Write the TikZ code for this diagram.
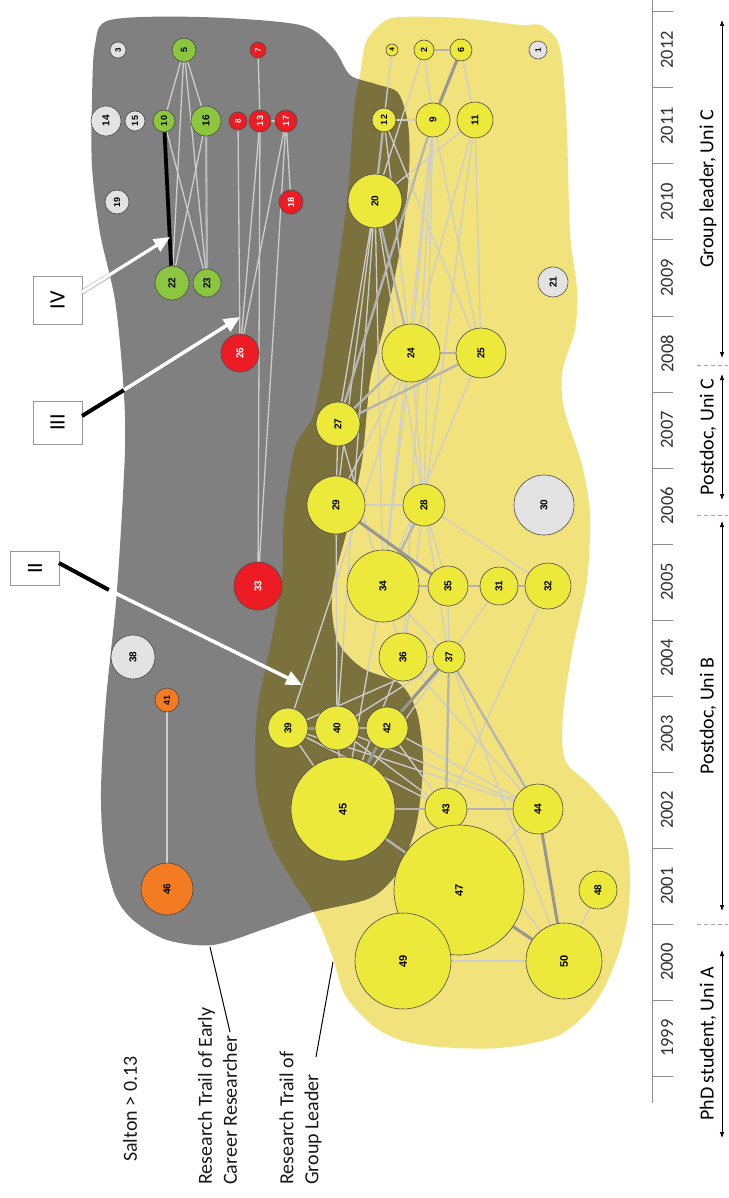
\documentclass[tikz,border=0pt]{standalone}
\usepackage{fontspec}
\setmainfont{Carlito}
\newfontfamily\numfont{Liberation Sans}
\usetikzlibrary{arrows.meta}
\pgfdeclarelayer{bg}\pgfdeclarelayer{edges}\pgfsetlayers{bg,edges,main}
\definecolor{graybg}{HTML}{808080}
\definecolor{yellowbg}{HTML}{F2E27B}
\definecolor{overlap}{HTML}{7A713D}
\definecolor{yl}{HTML}{EDE93B}
\definecolor{gr}{HTML}{8CC63F}
\definecolor{rd}{HTML}{ED1C24}
\definecolor{og}{HTML}{F37B21}
\definecolor{lg}{HTML}{E3E3E3}
\definecolor{ndb}{HTML}{4A4A4A}
\definecolor{ec1}{HTML}{CDCDCD}
\definecolor{ec2}{HTML}{B4B4B4}
\definecolor{ec3}{HTML}{969696}
\definecolor{tlc}{HTML}{8C8C8C}
\newcommand\ND[7]{\node[nd,minimum size=#4*2pt,fill=#5,text=#6,font=\numfont\bfseries\fontsize{#7}{#7}\selectfont] (n#1) at (#2,#3) {#1};}
\newcommand\EA[2]{\draw[ea] (n#1) -- (n#2);}
\newcommand\EB[2]{\draw[eb] (n#1) -- (n#2);}
\newcommand\EC[2]{\draw[ec] (n#1) -- (n#2);}
\def\graypath{plot[smooth cycle] coordinates {(95,45) (110,20) (200,17) (300,25) (333,48) (350,75) (375,84) (398,93) (408,125) (409,170) (403,230) (395,275) (383,330) (370,380) (362,460) (347,530) (332,590) (337,640) (362,668) (400,684) (417,713) (423,760) (420,800) (414,833) (397,873) (370,898) (313,912) (267,928) (213,945) (167,940) (133,920) (115,895) (104,850) (101,790) (106,700) (117,590) (125,450) (123,380) (115,300) (100,233) (92,167) (92,100)}}
\def\yellowpath{plot[smooth cycle] coordinates {(360,75) (366,42) (382,23) (400,17) (460,18) (520,25) (540,25) (557,40) (563,70) (567,133) (570,233) (577,290) (575,330) (563,367) (562,395) (567,420) (582,465) (590,515) (587,580) (573,647) (563,713) (565,760) (590,785) (617,817) (628,850) (630,885) (627,920) (618,955) (603,990) (585,1015) (555,1037) (500,1048) (440,1047) (400,1040) (372,1025) (345,995) (332,955) (315,915) (292,880) (270,840) (256,785) (257,713) (270,647) (282,580) (284,517) (295,447) (315,410) (333,300) (347,200) (354,110)}}
\begin{document}
\begin{tikzpicture}[x=1pt,y=-1pt,
  nd/.style={circle,draw=ndb,line width=0.6pt,inner sep=0pt,rotate=90},
  ea/.style={draw=ec1,line width=1.3pt},
  eb/.style={draw=ec2,line width=2.3pt},
  ec/.style={draw=ec3,line width=3pt},
  warrow/.style={draw=white,line width=3.5pt,-{Triangle[length=16pt,width=14pt,fill=white]}},
  barrow/.style={draw=black,line width=4pt},
  romanbox/.style={draw=black!40,fill=white,line width=0.8pt,rotate=90,inner sep=0pt,minimum height=49pt,font=\fontsize{22}{22}\selectfont},
  leg/.style={rotate=90,inner sep=0pt,text=black!90,font=\fontsize{20}{25}\selectfont},
  yearlab/.style={rotate=90,inner sep=0pt,text=black!80,font=\fontsize{18.5}{18.5}\selectfont},
  role/.style={rotate=90,inner sep=0pt,font=\fontsize{20}{20}\selectfont},
  tl/.style={draw=tlc,line width=1pt},
  tlarrow/.style={draw=black,line width=0.7pt,{Latex[length=6pt,width=4.5pt]}-{Latex[length=6pt,width=4.5pt]}},
  sep/.style={draw=black!35,line width=0.8pt,dash pattern=on 4pt off 3pt}]
\useasboundingbox (0,0) rectangle (728,1198);
% regions
\begin{pgfonlayer}{bg}
\fill[yellowbg] \yellowpath;
\fill[graybg] \graypath;
\begin{scope}
\clip \yellowpath;
\fill[overlap] \graypath;
\end{scope}
\end{pgfonlayer}
% nodes
\ND{1}{538}{50}{9}{lg}{black}{8}
\ND{2}{424}{50}{10}{yl}{black}{9}
\ND{3}{118}{50}{8}{lg}{black}{8}
\ND{4}{392}{50}{6}{yl}{black}{7}
\ND{5}{184}{50}{12}{gr}{black}{9}
\ND{6}{461}{50}{11}{yl}{black}{9}
\ND{7}{258}{50}{8}{rd}{white}{8}
\ND{8}{238}{121}{9}{rd}{white}{8}
\ND{9}{433}{120}{17}{yl}{black}{10}
\ND{10}{164}{121}{11}{gr}{black}{9}
\ND{11}{475}{120}{18}{yl}{black}{10}
\ND{12}{384}{120}{12}{yl}{black}{9}
\ND{13}{260}{121}{11}{rd}{white}{9}
\ND{14}{106}{121}{15}{lg}{black}{10}
\ND{15}{135}{121}{10}{lg}{black}{9}
\ND{16}{206}{121}{15}{gr}{black}{10}
\ND{17}{286}{121}{11}{rd}{white}{9}
\ND{18}{291}{202}{12}{rd}{white}{9}
\ND{19}{117}{202}{12}{lg}{black}{9}
\ND{20}{375}{201}{27}{yl}{black}{10}
\ND{21}{553}{282}{15}{lg}{black}{10}
\ND{22}{172}{283}{17}{gr}{black}{10}
\ND{23}{207}{283}{14}{gr}{black}{10}
\ND{24}{411}{353}{29}{yl}{black}{10}
\ND{25}{481}{353}{25}{yl}{black}{10}
\ND{26}{240}{353}{19}{rd}{white}{10}
\ND{27}{338}{424}{22}{yl}{black}{10}
\ND{28}{424}{505}{21}{yl}{black}{10}
\ND{29}{336}{505}{29}{yl}{black}{10}
\ND{30}{544}{505}{30}{lg}{black}{10}
\ND{31}{499}{586}{19}{yl}{black}{10}
\ND{32}{548}{586}{23}{yl}{black}{10}
\ND{33}{258}{586}{24}{rd}{white}{10}
\ND{34}{383}{586}{36}{yl}{black}{10}
\ND{35}{448}{586}{20}{yl}{black}{10}
\ND{36}{403}{657}{24}{yl}{black}{10}
\ND{37}{449}{657}{16}{yl}{black}{10}
\ND{38}{133}{657}{22}{lg}{black}{10}
\ND{39}{288}{728}{20}{yl}{black}{10}
\ND{40}{337}{728}{22}{yl}{black}{10}
\ND{41}{167}{700}{12}{og}{black}{9}
\ND{42}{387}{728}{21}{yl}{black}{10}
\ND{43}{446}{809}{21}{yl}{black}{10}
\ND{44}{538}{809}{25}{yl}{black}{10}
\ND{45}{343}{809}{52}{yl}{black}{11}
\ND{46}{167}{889}{26}{og}{black}{10}
\ND{47}{459}{890}{65}{yl}{black}{11}
\ND{48}{598}{890}{19}{yl}{black}{10}
\ND{49}{403}{961}{48}{yl}{black}{11}
\ND{50}{564}{961}{38}{yl}{black}{11}
% edges
\begin{pgfonlayer}{edges}
% green
\EA{5}{10}\EA{5}{22}\EA{5}{23}\EA{5}{16}\EA{10}{23}\EA{16}{22}\EB{16}{23}
\draw[black,line width=3.8pt] (n10) -- (n22);
% red
\EA{7}{13}\EA{8}{26}\EA{13}{26}\EA{13}{33}\EA{17}{26}\EA{17}{33}\EA{17}{18}\EA{13}{17}
% orange
\EA{41}{46}
% yellow thin
\EA{4}{12}\EA{2}{9}\EA{2}{20}\EA{6}{11}\EA{12}{9}\EA{12}{25}\EA{9}{24}\EA{9}{25}
\EA{11}{20}\EA{11}{24}\EA{11}{25}\EA{11}{28}\EA{9}{34}\EA{9}{28}\EA{20}{27}\EA{20}{29}
\EA{20}{34}\EA{20}{28}\EA{20}{40}\EA{24}{28}\EA{24}{34}\EA{24}{29}\EA{27}{34}\EA{27}{29}
\EA{29}{28}\EA{28}{35}\EA{28}{37}\EA{28}{36}\EA{28}{32}\EA{31}{37}\EA{32}{43}\EA{36}{37}
\EA{37}{40}\EA{37}{39}\EA{37}{45}\EA{34}{45}\EA{36}{45}\EA{29}{40}\EA{24}{39}\EA{39}{43}
\EA{40}{43}\EA{42}{43}\EA{40}{44}\EA{42}{44}\EA{39}{44}\EA{36}{44}\EA{37}{50}\EA{43}{47}
\EA{44}{47}\EA{49}{50}\EA{48}{50}\EA{43}{50}\EA{34}{36}\EA{35}{37}\EA{34}{37}\EA{40}{45}
\EA{39}{45}\EA{12}{24}\EA{25}{34}\EA{9}{36}
% yellow medium
\EB{2}{6}\EB{12}{20}\EB{9}{27}\EB{20}{24}\EB{24}{25}\EB{25}{27}\EB{24}{27}\EB{28}{34}
\EB{34}{35}\EB{35}{31}\EB{31}{32}\EB{37}{44}\EB{45}{43}\EB{43}{44}\EB{45}{47}\EB{37}{43}
\EB{40}{42}\EB{45}{44}
% yellow thick
\EC{6}{9}\EC{29}{35}\EC{37}{42}\EC{39}{40}\EC{44}{50}\EC{47}{50}\EC{42}{45}
\end{pgfonlayer}
% roman numeral boxes and arrows
\node[romanbox,minimum width=48pt] (IV) at (57.5,300) {IV};
\node[romanbox,minimum width=43pt] (III) at (57.5,422.5) {III};
\node[romanbox,minimum width=34pt] (II) at (35,568) {II};
\coordinate (iva) at (82,292); \coordinate (ivm) at (110,275); \coordinate (ivt) at (170,237);
\coordinate (iiia) at (82,416); \coordinate (iiib) at (124,390); \coordinate (iiit) at (240,317);
\coordinate (iia) at (59,563); \coordinate (iib) at (109,590); \coordinate (iit) at (302,685);
\draw[line width=4.8pt,draw=black!28] (iva) -- (ivm);
\draw[warrow,line width=3.2pt] (iva) -- (ivt);
\draw[barrow] (iiia) -- (iiib);
\draw[warrow] (iiib) -- (iiit);
\draw[barrow] (iia) -- (iib);
\draw[warrow] (iib) -- (iit);
% legend
\node[leg,anchor=west] (salton) at (130,1162) {Salton > 0.13};
\node[leg,anchor=west,align=left] (early) at (217.5,1185) {Research Trail of Early\\Career Researcher};
\node[leg,anchor=west,align=left] (glead) at (300.5,1185) {Research Trail of\\Group Leader};
\coordinate (la) at (230,1032); \coordinate (lb) at (210,947);
\coordinate (lc) at (316,1057); \coordinate (ld) at (333,962);
\draw[black,line width=1pt] (la) -- (lb);
\draw[black,line width=1pt] (lc) -- (ld);
% timeline
\draw[tl] (652,0) -- (652,1103);
\foreach \i in {0,...,14} { \draw[tl] (652,12+76*\i) -- (673,12+76*\i); }
\foreach \yr [count=\i from 0] in {2012,2011,...,1999} { \node[yearlab] (y\yr) at (667,50+76*\i) {\yr}; }
\node[role] (rgl) at (708,189) {Group leader, Uni C};
\node[role] (rpc) at (708,437) {Postdoc, Uni C};
\node[role] (rpb) at (708,716) {Postdoc, Uni B};
\node[role] (rphd) at (708,1044) {PhD student, Uni A};
\coordinate (a1) at (722,20); \coordinate (a2) at (722,358);
\coordinate (b1) at (722,374); \coordinate (b2) at (722,500);
\coordinate (c1) at (722,521); \coordinate (c2) at (722,911);
\coordinate (d1) at (722,950); \coordinate (d2) at (722,1138);
\draw[tlarrow] (a1) -- (a2);
\draw[tlarrow] (b1) -- (b2);
\draw[tlarrow] (c1) -- (c2);
\draw[tlarrow] (d1) -- (d2);
\coordinate (s1a) at (697,365); \coordinate (s1b) at (728,365);
\coordinate (s2a) at (697,515); \coordinate (s2b) at (728,515);
\coordinate (s3a) at (697,924); \coordinate (s3b) at (728,924);
\draw[sep] (s1a) -- (s1b);
\draw[sep] (s2a) -- (s2b);
\draw[sep] (s3a) -- (s3b);
\end{tikzpicture}
\end{document}
